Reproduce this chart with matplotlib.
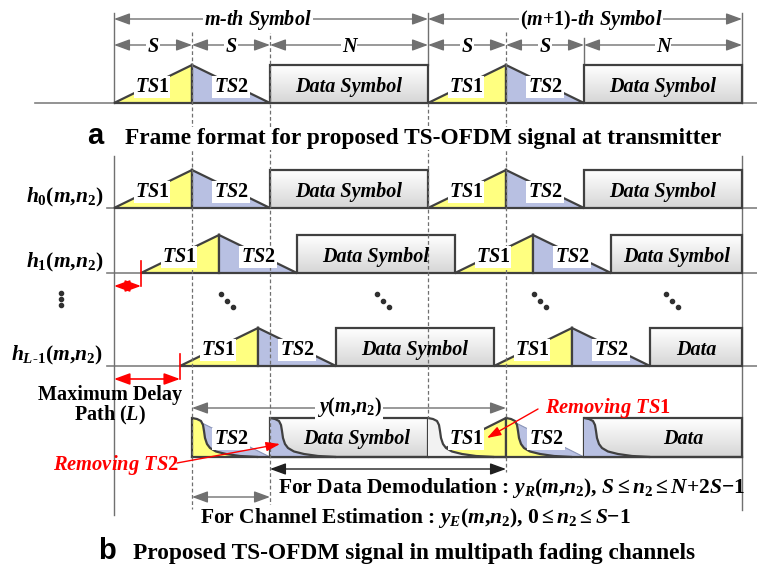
import numpy as np
import matplotlib
matplotlib.use('Agg')
import matplotlib.pyplot as plt
from matplotlib.patches import Polygon, Rectangle
from matplotlib.colors import LinearSegmentedColormap

plt.rcParams['font.family'] = ['Liberation Serif', 'DejaVu Serif']
plt.rcParams['font.weight'] = 'bold'
plt.rcParams['mathtext.fontset'] = 'custom'
plt.rcParams['mathtext.rm'] = 'Liberation Serif:bold'
plt.rcParams['mathtext.it'] = 'Liberation Serif:bold:italic'
plt.rcParams['mathtext.bf'] = 'Liberation Serif:bold'

# frame layout (pixel units of the 757x568 picture)
S_LEN = 78
N_LEN = 158
X_START = 114
X_END = 742
PEAK_H = 38

BASE_A = 103
ROW_LABELS = [r'$h_0(m{,}n_2)$', r'$h_1(m{,}n_2)$', r'$h_{L\text{-}1}(m{,}n_2)$']
ROW_BASE = [208, 273, 366]
ROW_DELAY = [0, 27, 66]
DOT_X = [227, 383, 540, 672]

# received signal row
RX_TOP = 418
RX_BASE = 457
TAIL_DX = [0, 5, 9, 11, 12, 13, 15, 18, 24, 34, 48, 66]
TAIL_DY = [0, 1, 3, 7, 13, 20, 26, 30, 33.5, 36, 38, 39]

YELLOW = '#ffff80'
BLUE = '#b8c0e2'
EDGE = '#404040'
GRAY = '#707070'
RED = '#ff0000'
GRAD = LinearSegmentedColormap.from_list('box', ['#d6d6d6', '#ffffff'])

fig = plt.figure(figsize=(7.57, 5.68), dpi=100)
ax = fig.add_axes([0, 0, 1, 1])

LW = 1.6
FS = 14.5


def label(x, y, s, size=FS, style='italic', box=False, **kw):
    bb = dict(facecolor='white', edgecolor='none', pad=0.8) if box else None
    ax.text(x, y, s, fontsize=size, fontstyle=style, fontweight='bold',
            ha=kw.pop('ha', 'center'), va=kw.pop('va', 'baseline'),
            bbox=bb, zorder=7, **kw)


def draw_ts(x0, base, h=PEAK_H):
    ax.add_patch(Polygon([(x0, base), (x0 + S_LEN, base - h), (x0 + S_LEN, base)],
                         closed=True, fc=YELLOW, ec=EDGE, lw=LW, zorder=3))
    ax.add_patch(Polygon([(x0 + S_LEN, base - h), (x0 + 2 * S_LEN, base), (x0 + S_LEN, base)],
                         closed=True, fc=BLUE, ec=EDGE, lw=LW, zorder=3))
    label(x0 + S_LEN / 2 - 1, base - 11, r'$TS1$', box=True)
    label(x0 + 1.5 * S_LEN, base - 11, r'$TS2$', box=True)


def draw_box(x0, x1, top, base):
    grad = np.linspace(0, 1, 64).reshape(-1, 1)
    ax.imshow(grad, extent=(x0, x1, base, top), origin='lower', cmap=GRAD,
              aspect='auto', zorder=2, interpolation='bilinear')
    ax.add_patch(Rectangle((x0, top), x1 - x0, base - top, fill=False,
                           ec=EDGE, lw=LW, zorder=4))


def draw_row(base, delay):
    x = X_START + delay
    while x < X_END:
        draw_ts(x, base)
        x += 2 * S_LEN
        x1 = min(x + N_LEN, X_END)
        draw_box(x, x1, base - PEAK_H, base)
        txt = 'Data Symbol' if x1 - x > 120 else 'Data'
        label((x + x1) / 2, base - 11, txt)
        x += N_LEN


def dim_arrow(x0, x1, y, color=GRAY, lw=1.0):
    ax.annotate('', xy=(x1, y), xytext=(x0, y),
                arrowprops=dict(arrowstyle='<|-|>,head_length=0.6,head_width=0.22',
                                color=color, lw=lw, shrinkA=0, shrinkB=0,
                                mutation_scale=16), zorder=5)


def tail(x0, fc):
    xs = x0 + np.array(TAIL_DX)
    ys = RX_TOP + np.array(TAIL_DY)
    pts = list(zip(xs, ys)) + [(x0, RX_BASE)]
    ax.add_patch(Polygon(pts, closed=True, fc=fc, ec='none', zorder=4.2))
    ax.plot(xs, ys, color=EDGE, lw=LW, zorder=4.5, solid_capstyle='round')


# ---------------- section a ----------------
ax.plot([35, 757], [BASE_A, BASE_A], color='#808080', lw=1.2, zorder=1)
draw_row(BASE_A, 0)

dim_arrow(114, 428, 19)
dim_arrow(428, 742, 19)
label(258, 25, r'$m$-th Symbol', box=True)
label(591, 25, r'$(m{+}1)$-th Symbol', box=True)
for i, (a, b) in enumerate([(114, 192), (192, 270), (270, 428),
                            (428, 506), (506, 584), (584, 742)]):
    dim_arrow(a, b, 45)
    label((a + b) / 2, 51.5, 'N' if i % 3 == 2 else 'S', box=True)

# extension lines
for x, y0, y1 in [(114, 13, 103), (742, 13, 103), (428, 13, 65), (584, 38, 65),
                  (114, 156, 515), (742, 156, 510)]:
    ax.plot([x, x], [y0, y1], color=GRAY, lw=1.0, zorder=1.5)
for x, y0, y1 in [(192, 32, 509), (270, 29, 509), (428, 103, 418),
                  (506, 32, 418), (506, 457, 472)]:
    ax.plot([x, x], [y0, y1], color=GRAY, lw=0.9, ls=(0, (3, 2)), zorder=5)

ax.text(95, 144, 'a', fontsize=21, fontweight='bold', family='Liberation Sans',
        ha='center', va='baseline', zorder=7)
ax.text(125, 144, 'Frame format for proposed TS-OFDM signal at transmitter',
        fontsize=16.8, fontweight='bold', ha='left', va='baseline', zorder=7,
        bbox=dict(facecolor='white', edgecolor='none', pad=1))

# ---------------- section b ----------------
for name, base, d in zip(ROW_LABELS, ROW_BASE, ROW_DELAY):
    ax.plot([107, 757], [base, base], color='#808080', lw=1.2, zorder=1)
    draw_row(base, d)
    ax.text(103, base - 6, name, fontsize=15.5, fontweight='bold',
            ha='right', va='baseline', zorder=7)
    if d > 0:
        ax.plot([X_START + d] * 2, [base - 12, base + 13], color=RED, lw=1.2, zorder=6)
        dim_arrow(X_START, X_START + d, base + 13, color=RED, lw=1.2)

ax.plot([61, 61, 61], [293, 299, 305], 'o', color='#303030', ms=3, zorder=6)
for x in DOT_X:
    ax.plot([x - 6, x, x + 6], [294, 300.5, 307], 'o', color='#303030', ms=3, zorder=6)

label(110, 400, 'Maximum Delay', style='normal')
label(110, 420, r'Path ($L$)', style='normal')

# received signal after removing the training sequences
ax.add_patch(Polygon([(192, RX_TOP), (270, RX_BASE), (192, RX_BASE)], closed=True,
                     fc=BLUE, ec='#8a94b8', lw=0.8, zorder=3))
tail(192, YELLOW)
draw_box(270, 428, RX_TOP, RX_BASE)
tail(270, BLUE)
ax.add_patch(Polygon([(428, RX_BASE), (506, RX_TOP), (506, RX_BASE)], closed=True,
                     fc=YELLOW, ec=EDGE, lw=LW, zorder=3))
tail(428, '#f2f2f2')
ax.add_patch(Polygon([(506, RX_TOP), (584, RX_BASE), (506, RX_BASE)], closed=True,
                     fc=BLUE, ec='#8a94b8', lw=0.8, zorder=3))
tail(506, YELLOW)
draw_box(584, 742, RX_TOP, RX_BASE)
tail(584, BLUE)
for x in [192, 506]:
    ax.plot([x, x], [RX_TOP, RX_BASE], color=EDGE, lw=LW, zorder=4.6)
ax.plot([192, 742], [RX_BASE, RX_BASE], color=EDGE, lw=LW, zorder=4.6)

label(231, 444, r'$TS2$', box=True)
label(357, 444, 'Data Symbol')
label(466, 444, r'$TS1$', box=True)
label(546, 444, r'$TS2$', box=True)
label(683, 444, 'Data')

dim_arrow(192, 506, 408)
label(349, 412, r'$y(m{,}n_2)$', style='normal', box=True)

ax.annotate('', xy=(280, 444), xytext=(177, 463),
            arrowprops=dict(arrowstyle='-|>,head_length=0.6,head_width=0.2', color=RED,
                            lw=1.0, shrinkA=0, shrinkB=0, mutation_scale=14), zorder=8)
label(53, 470, r'Removing $TS2$', color=RED, ha='left', size=14.8)
ax.annotate('', xy=(487, 438), xytext=(538, 409),
            arrowprops=dict(arrowstyle='-|>,head_length=0.6,head_width=0.2', color=RED,
                            lw=1.0, shrinkA=0, shrinkB=0, mutation_scale=14), zorder=8)
label(545, 413, r'Removing $TS1$', color=RED, ha='left', size=14.8)

dim_arrow(270, 506, 469, color='#202020')
dim_arrow(192, 270, 497)
label(278, 493, r'For Data Demodulation : $y_R(m{,}n_2)$, $S \leq n_2 \leq N{+}2S{-}1$',
      style='normal', ha='left', size=15.5)
label(200, 523, r'For Channel Estimation : $y_E(m{,}n_2)$, $0 \leq n_2 \leq S{-}1$',
      style='normal', ha='left', box=True, size=15.5)

ax.text(107, 559, 'b', fontsize=21, fontweight='bold', family='Liberation Sans',
        ha='center', va='baseline', zorder=7)
ax.text(133, 559, 'Proposed TS-OFDM signal in multipath fading channels',
        fontsize=16.8, fontweight='bold', ha='left', va='baseline', zorder=7)

ax.set_xlim(0, 757)
ax.set_ylim(568, 0)
ax.set_aspect('auto')
ax.axis('off')
fig.savefig('out.png', dpi=100, facecolor='white')
